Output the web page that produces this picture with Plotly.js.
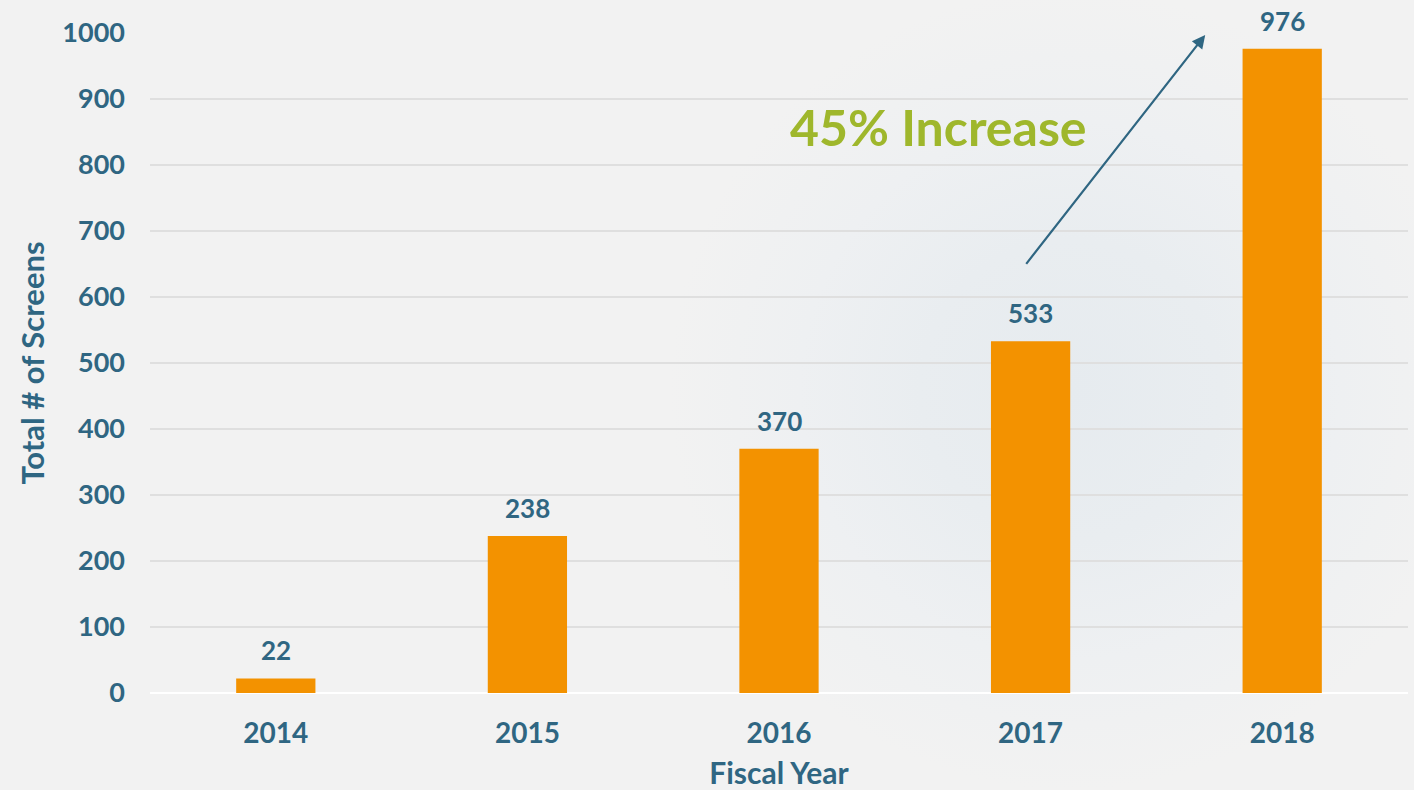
<!DOCTYPE html>
<html>
<head>
<meta charset="utf-8">
<script src="https://cdn.plot.ly/plotly-3.0.1.min.js"></script>
<style>
html,body{margin:0;padding:0;}
body{width:1414px;height:790px;background:#f2f2f2;}
#bg{position:absolute;left:0;top:0;width:1414px;height:790px;
background:radial-gradient(circle at 1070px 390px, #e6ebef 0px, #e9edf0 150px, #eef0f2 270px, #f2f2f2 400px);}
#chart{position:absolute;left:0;top:0;width:1414px;height:790px;}
</style>
</head>
<body>
<div id="bg"></div>
<div id="chart"></div>
<script>
const years = ['2014', '2015', '2016', '2017', '2018'];
const screens = [22, 238, 370, 533, 976];
const yTicks = [0, 100, 200, 300, 400, 500, 600, 700, 800, 900, 1000];

const blue = '#2f6682';
const orange = '#f39200';
const green = '#9fb72c';
const fontFam = 'Lato, "Open Sans", sans-serif';

const trace = {
  type: 'bar',
  x: years,
  y: screens,
  marker: {color: orange},
  hoverinfo: 'skip'
};

const labelAnnotations = years.map((yr, i) => ({
  x: i, y: screens[i], xref: 'x', yref: 'y',
  text: '<b>' + screens[i] + '</b>',
  showarrow: false, yanchor: 'bottom', yshift: 10,
  font: {family: fontFam, size: 26, color: blue}
}));

const layout = {
  width: 1414, height: 790,
  paper_bgcolor: 'rgba(0,0,0,0)',
  plot_bgcolor: 'rgba(0,0,0,0)',
  margin: {l: 150, r: 6, t: 33, b: 97},
  bargap: 0.685,
  showlegend: false,
  xaxis: {
    type: 'category',
    range: [-0.5, 4.5],
    tickfont: {family: fontFam, size: 28, color: blue, weight: 'bold'},
    ticklabelstandoff: 21,
    showgrid: false,
    zeroline: false,
    showline: false,
    title: {text: '<b>Fiscal Year</b>', font: {family: fontFam, size: 30, color: blue}, standoff: 16}
  },
  yaxis: {
    range: [0, 1000],
    tickvals: yTicks,
    ticktext: yTicks.map(String),
    tickfont: {family: fontFam, size: 27, color: blue, weight: 'bold'},
    ticklabelstandoff: 24,
    gridcolor: '#dfdfdf',
    gridwidth: 2,
    zeroline: true,
    zerolinecolor: '#ffffff',
    zerolinewidth: 2,
    showline: false,
    title: {text: '<b>Total # of Screens</b>', font: {family: fontFam, size: 31, color: blue}, standoff: 8}
  },
  annotations: labelAnnotations.concat([
    {
      xref: 'x', yref: 'y', x: 3.694, y: 997, ax: 2.978, ay: 648,
      axref: 'x', ayref: 'y',
      showarrow: true, arrowhead: 2, arrowsize: 1.2, arrowwidth: 2.2, arrowcolor: blue,
      text: ''
    },
    {
      xref: 'x', yref: 'y', x: 2.632, y: 858,
      text: '<b>45% Increase</b>', showarrow: false,
      font: {family: fontFam, size: 50, color: green}
    }
  ])
};

Plotly.newPlot('chart', [trace], layout, {displayModeBar: false, staticPlot: true});
</script>
</body>
</html>
